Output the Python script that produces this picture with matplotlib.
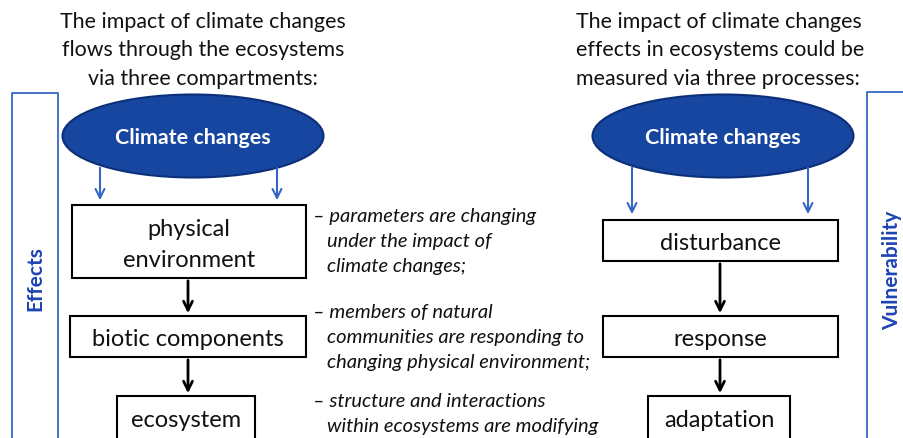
import matplotlib.pyplot as plt
from matplotlib.patches import Ellipse, Rectangle

plt.rcParams['font.family'] = ['Lato', 'DejaVu Sans']

# text content
left_title = ["The impact of climate changes", "flows through the ecosystems", "via three compartments:"]
right_title = ["The impact of climate changes", "effects in ecosystems could be", "measured via three processes:"]
ellipse_label = "Climate changes"
left_boxes = ["physical\nenvironment", "biotic components", "ecosystem"]
right_boxes = ["disturbance", "response", "adaptation"]
notes = [
    ["– parameters are changing", "under the impact of", "climate changes;"],
    ["– members of natural", "communities are responding to", "changing physical environment;"],
    ["– structure and interactions", "within ecosystems are modifying"],
]
left_side = "Effects"
right_side = "Vulnerability"

BLUE = '#3566c4'
TEXT_BLUE = '#1d44b4'
NAVY = '#1746a0'

fig = plt.figure(figsize=(9.04, 4.39), dpi=100)
ax = fig.add_axes([0, 0, 1, 1])
ax.set_xlim(0, 904)
ax.set_ylim(439, 0)
ax.axis('off')

# titles
for i, line in enumerate(left_title):
    ax.text(203, 22 + i * 28.5, line, ha='center', va='center', fontsize=15.4, color='#111111')
for i, line in enumerate(right_title):
    ax.text(576, 22 + i * 28.5, line, ha='left', va='center', fontsize=15.4, color='#111111')

# side brackets
ax.plot([12, 12, 58, 58], [445, 94, 94, 445], color=BLUE, lw=1.3)
ax.text(35, 279, left_side, rotation=90, ha='center', va='center', fontsize=15,
        fontweight='bold', color=TEXT_BLUE)
ax.plot([867, 867, 910], [445, 93, 93], color=BLUE, lw=1.3)
ax.text(892, 270, right_side, rotation=90, ha='center', va='center', fontsize=15,
        fontweight='bold', color=TEXT_BLUE)

# ellipses + blue arrows
for cx, arrow_x, tip in [(193, (100, 277), 204), (723, (632, 808), 218)]:
    ax.add_patch(Ellipse((cx, 137), 261, 83, facecolor=NAVY, edgecolor='#0c2f78', lw=1.5))
    ax.text(cx, 138, ellipse_label, ha='center', va='center', fontsize=15.4,
            fontweight='bold', color='white')
    for x in arrow_x:
        ax.annotate('', xy=(x, tip), xytext=(x, 166),
                    arrowprops=dict(arrowstyle='->', color=BLUE, lw=1.5, mutation_scale=16))

# flow boxes
left_geom = [(72, 206, 234, 73), (70, 317, 236, 41), (117, 397, 138, 60)]
right_geom = [(603, 221, 235, 41), (603, 317, 235, 41), (648, 397, 142, 60)]

for labels, geom, arrow_x in [(left_boxes, left_geom, 188), (right_boxes, right_geom, 720)]:
    for k, (label, (x, y, w, h)) in enumerate(zip(labels, geom)):
        ax.add_patch(Rectangle((x, y), w, h, facecolor='white', edgecolor='black', lw=1.5))
        if h == 73:
            cy = y + 39
        elif k == 2:
            cy = y + 24
        else:
            cy = y + 23
        ax.text(x + w / 2, cy, label, ha='center', va='center', fontsize=17,
                color='#111111', linespacing=1.55)
        if k < 2:
            nx, ny, nw, nh = geom[k + 1]
            ax.annotate('', xy=(arrow_x, ny), xytext=(arrow_x, y + h),
                        arrowprops=dict(arrowstyle='->', color='black', lw=2, mutation_scale=16))

# notes
note_y = [217, 313, 402]
for block, y0 in zip(notes, note_y):
    for j, line in enumerate(block):
        ax.text(313 if j == 0 else 327, y0 + j * 25, line, ha='left', va='center',
                fontsize=14.5, style='italic', color='#111111')

fig.savefig('out.png', dpi=100)
